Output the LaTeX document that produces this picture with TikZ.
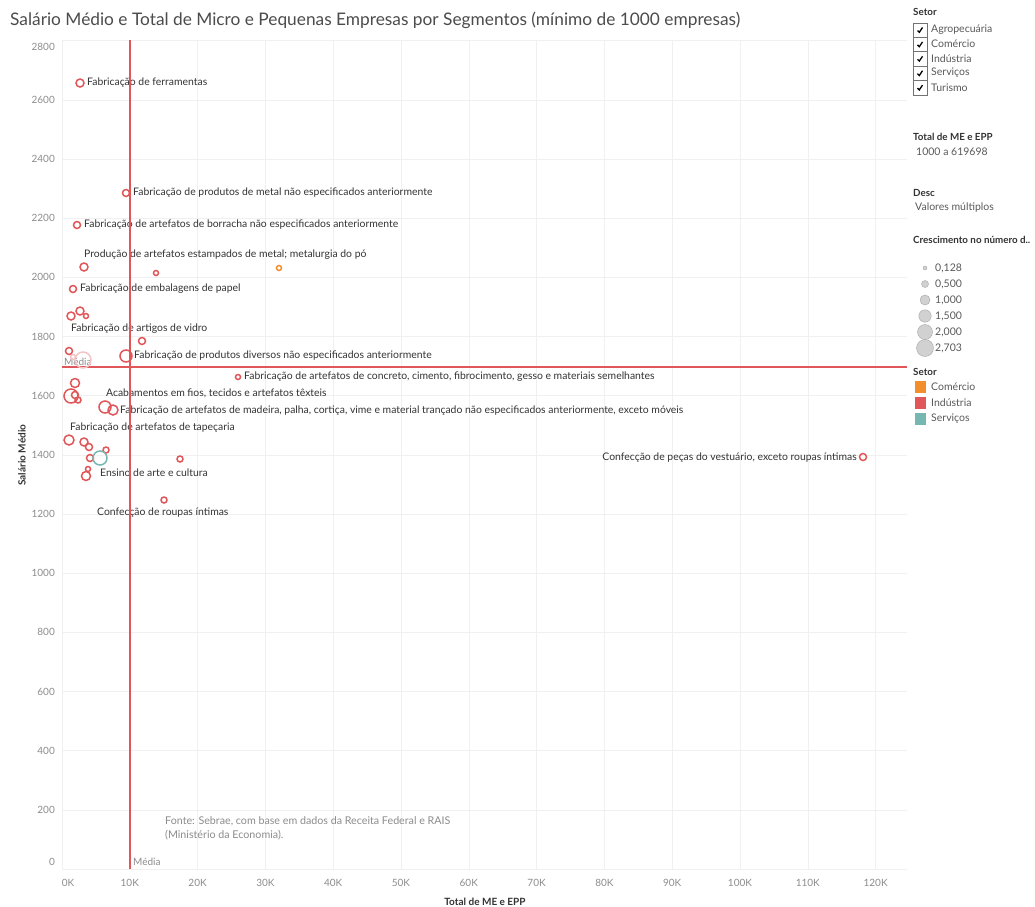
\documentclass[tikz,border=0pt]{standalone}
\usepackage{fontspec}
\setmainfont{Lato}
\definecolor{industria}{HTML}{E15759}
\definecolor{comercio}{HTML}{F28E2B}
\definecolor{servicos}{HTML}{76B7B2}
\definecolor{labeltxt}{HTML}{333333}
\definecolor{axistxt}{HTML}{8C8C8C}
\definecolor{gridln}{HTML}{F0F0F0}

\begin{document}
\begin{tikzpicture}[x=1pt, y=-1pt]
  \tikzstyle{ind} = [circle, draw=industria, line width=1.5pt, inner sep=0pt]
  \tikzstyle{lbl} = [anchor=west, inner sep=0pt, text=labeltxt, font=\fontsize{10.4}{12}\selectfont]
  \tikzstyle{tick} = [inner sep=0pt, text=axistxt, font=\fontsize{10}{12}\selectfont]
  \tikzstyle{legtitle} = [anchor=west, inner sep=0pt, text=labeltxt, font=\fontsize{9.8}{12}\selectfont\bfseries]
  \tikzstyle{legtxt} = [anchor=west, inner sep=0pt, text=black!65, font=\fontsize{10.5}{12}\selectfont]
  \tikzstyle{sizeleg} = [circle, draw=black!35, fill=black!18, inner sep=0pt]
\useasboundingbox (0,0) rectangle (1035,906);
\fill[white] (0,0) rectangle (1035,906);
% title
\node[anchor=west, inner sep=0pt, text=black!70, font=\fontsize{17.3}{20}\selectfont] (title) at (10,20)
  {Salário Médio e Total de Micro e Pequenas Empresas por Segmentos (mínimo de 1000 empresas)};
% grid and ticks
\foreach \k in {0,...,12}
  \draw[gridln] ({62+67.8*\k},40) -- ({62+67.8*\k},869);
\foreach \j in {0,...,14}
  \draw[gridln] (62,{869-59.17*\j}) -- (907,{869-59.17*\j});
\foreach \k in {1,...,12}
  \node[tick] (xt\k) at ({62+67.8*\k},883) {\k0K};
\node[tick] (xt0) at (68,883) {0K};
\foreach \j in {1,...,13}
  \node[tick, anchor=east] (yt\j) at (55,{869-59.17*\j}) {\pgfmathparse{int(200*\j)}\pgfmathresult};
\node[tick, anchor=east] (yt0) at (55,862) {0};
\node[tick, anchor=east] (yt14) at (55,47) {2800};
\node[inner sep=0pt, text=labeltxt, font=\fontsize{10}{12}\selectfont\bfseries] (xtitle) at (485,902) {Total de ME e EPP};
\node[inner sep=0pt, rotate=90, text=labeltxt, font=\fontsize{10}{12}\selectfont\bfseries] (ytitle) at (22,455) {Salário Médio};
% fonte
\node[anchor=north west, inner sep=0pt, align=left, text=axistxt, font=\fontsize{10.7}{14}\selectfont] (fonte) at (165,816)
  {Fonte: Sebrae, com base em dados da Receita Federal e RAIS\\(Ministério da Economia).};
% labels
\node[lbl] (ferramentas) at (87,83) {Fabricação de ferramentas};
\node[lbl] (metal) at (133,193) {Fabricação de produtos de metal não especificados anteriormente};
\node[lbl] (borracha) at (84,225) {Fabricação de artefatos de borracha não especificados anteriormente};
\node[lbl] (estampados) at (84,255) {Produção de artefatos estampados de metal; metalurgia do pó};
\node[lbl] (papel) at (80,289) {Fabricação de embalagens de papel};
\node[lbl] (vidro) at (71,329) {Fabricação de artigos de vidro};
\node[lbl] (diversos) at (134,356) {Fabricação de produtos diversos não especificados anteriormente};
\node[lbl] (concreto) at (244,377) {Fabricação de artefatos de concreto, cimento, fibrocimento, gesso e materiais semelhantes};
\node[lbl] (textil) at (106,393) {Acabamentos em fios, tecidos e artefatos têxteis};
\node[lbl] (madeira) at (120,411) {Fabricação de artefatos de madeira, palha, cortiça, vime e material trançado não especificados anteriormente, exceto móveis};
\node[lbl] (tapecaria) at (70,428) {Fabricação de artefatos de tapeçaria};
\node[lbl] (ensino) at (100,473) {Ensino de arte e cultura};
\node[lbl] (intimas) at (97,513) {Confecção de roupas íntimas};
\node[lbl, anchor=east] (vestuario) at (857,458) {Confecção de peças do vestuário, exceto roupas íntimas};
% media lines
\draw[industria, line width=1.2pt] (130,40) -- (130,869);
\draw[industria, line width=1.2pt] (62,367) -- (907,367);
\node[tick, anchor=south west] (mediah) at (64,366) {Média};
\node[tick, anchor=west] (mediav) at (133,862) {Média};
% faded points
\node[ind, draw=industria!35, minimum size=16pt] (fd1) at (83,360) {};
\node[ind, draw=industria!35, minimum size=5pt] (fd2) at (73,357) {};
% points
\foreach \px/\py/\r [count=\i] in {80/83/4, 126/193/3.5, 77/225/3.5, 84/267/4, 156/273/2.5,
    73/289/3.5, 71/316/4, 80/311/4, 86/316/2.5, 142/341/3.5, 69/351/3.5, 126/356/6,
    238/377/2.5, 75/383/4.5, 71/396/7, 75/395/3.5, 78/400/3, 105/407/6, 113/410/5,
    69/440/5, 84/442/4, 89/447/3.5, 106/450/3, 90/458/3.5, 180/459/3, 88/469/2.5,
    86/476/4.5, 164/500/3, 863/457/3.5}
  \node[ind, minimum size=2*\r pt] (p\i) at (\px,\py) {};
\node[ind, draw=comercio, minimum size=5pt] (com1) at (279,268) {};
\node[ind, draw=servicos, minimum size=14pt] (serv1) at (100,458) {};
% legend
\node[legtitle] (setor1) at (913,12) {Setor};
\foreach \s [count=\i] in {Agropecuária, Comércio, Indústria, Serviços, Turismo} {
  \draw[black!55] (913,{22.7+14.4*(\i-1)}) rectangle (927,{22.7+14.4*\i});
  \draw[black, line width=1.3pt] (917.5,{30.5+14.4*(\i-1)}) -- (919.3,{32.3+14.4*(\i-1)}) -- (922.5,{27.5+14.4*(\i-1)});
  \node[legtxt] (chk\i) at (931,{29.7+14.4*(\i-1)}) {\s};
}
\node[legtitle] (totalt) at (913,137) {Total de ME e EPP};
\node[legtxt] (totalv) at (916,152) {1000 a 619698};
\node[legtitle] (desct) at (913,193) {Desc};
\node[legtxt] (descv) at (915,208) {Valores múltiplos};
\node[legtitle] (cresc) at (913,240) {Crescimento no número d..};
\foreach \v/\r [count=\i] in {0{,}128/2, 0{,}500/3.5, 1{,}000/5, 1{,}500/6.2, 2{,}000/7.5, 2{,}703/8.5} {
  \node[sizeleg, minimum size=2*\r pt] (sz\i) at (925,{268+16*(\i-1)}) {};
  \node[legtxt] (szl\i) at (935,{268+16*(\i-1)}) {\v};
}
\node[legtitle] (setor2) at (913,372) {Setor};
\foreach \c/\s [count=\i] in {comercio/Comércio, industria/Indústria, servicos/Serviços} {
  \fill[\c] (915,{381+16*(\i-1)}) rectangle (926,{393+16*(\i-1)});
  \node[legtxt] (sw\i) at (931,{387+16*(\i-1)}) {\s};
}
\end{tikzpicture}
\end{document}
